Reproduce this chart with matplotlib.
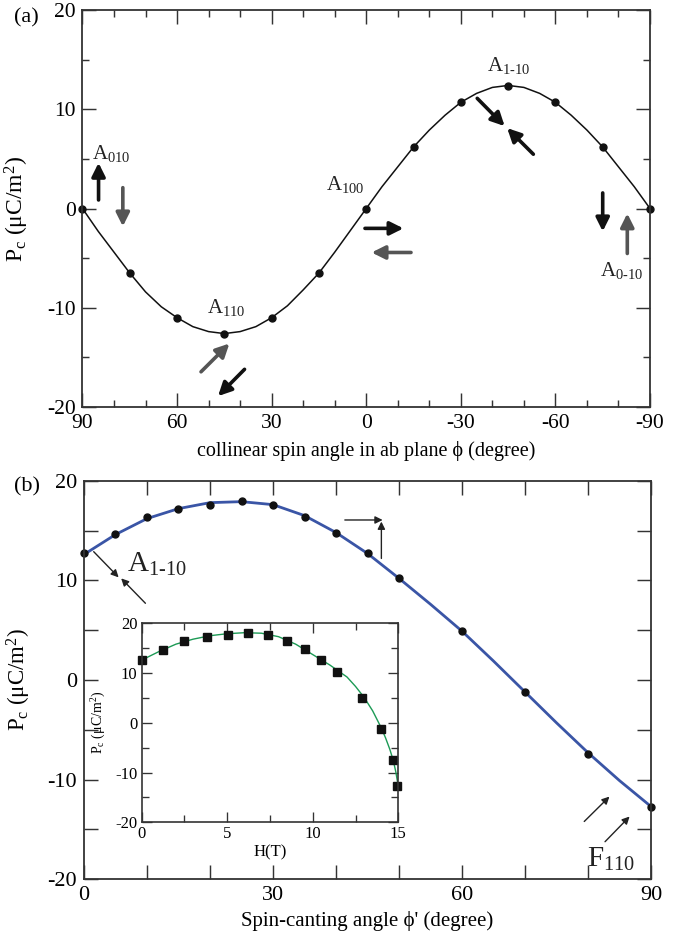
import matplotlib
matplotlib.use("Agg")
import matplotlib.pyplot as plt
import numpy as np

plt.rcParams['font.family'] = ['Liberation Serif', 'DejaVu Serif']
plt.rcParams['mathtext.fontset'] = 'custom'
plt.rcParams['mathtext.rm'] = 'Liberation Serif'
plt.rcParams['mathtext.it'] = 'Liberation Serif:italic'
plt.rcParams['axes.unicode_minus'] = False

# panel (a): collinear spin angle
phi_pts = [90, 75, 60, 45, 30, 15, 0, -15, -30, -45, -60, -75, -90]
pc_a_pts = [0, -6.5, -11.0, -12.65, -11.0, -6.5, 0, 6.2, 10.7, 12.3, 10.7, 6.2, 0]
phi_fit = [90, 85, 80, 75, 70, 65, 60, 55, 50, 45, 40, 35, 30, 25, 20, 15, 10, 5, 0,
           -5, -10, -15, -20, -25, -30, -35, -40, -45, -50, -55, -60, -65, -70, -75, -80, -85, -90]
pc_a_fit = [0, -2.3, -4.4, -6.5, -8.4, -9.9, -11.0, -11.9, -12.4, -12.6, -12.4, -11.9, -11.0,
            -9.8, -8.2, -6.5, -4.4, -2.2, 0, 2.2, 4.2, 6.2, 7.9, 9.4, 10.7, 11.6, 12.2, 12.4,
            12.2, 11.6, 10.7, 9.4, 7.9, 6.2, 4.2, 2.2, 0]

# panel (b): spin-canting angle
cant_pts = [0, 5, 10, 15, 20, 25, 30, 35, 40, 45, 50, 60, 70, 80, 90]
pc_b_pts = [12.7, 14.7, 16.4, 17.2, 17.6, 18.0, 17.6, 16.4, 14.8, 12.7, 10.2, 4.9, -1.2, -7.4, -12.7]
cant_fit = [0, 5, 10, 15, 20, 25, 30, 35, 40, 45, 50, 55, 60, 65, 70, 75, 80, 85, 90]
pc_b_fit = [12.6, 14.6, 16.2, 17.2, 17.8, 17.9, 17.6, 16.5, 14.8, 12.7, 10.2, 7.6, 4.9, 1.9,
            -1.2, -4.3, -7.3, -10.1, -12.7]

# inset: field dependence
h_pts = [0, 1.26, 2.5, 3.8, 5.03, 6.2, 7.4, 8.5, 9.55, 10.5, 11.4, 12.9, 14.0, 14.7, 14.9]
h_fit = [0, 1, 2, 3, 4, 5, 6, 7, 8, 9, 10, 11, 12, 12.5, 13, 13.5, 14, 14.25, 14.5, 14.7, 14.85, 15.0]
pc_h_fit = [12.6, 14.3, 15.8, 16.8, 17.5, 17.9, 18.1, 18.0, 17.3, 15.8, 13.7, 11.6, 9.2, 7.3,
            5.1, 2.4, -1.0, -3.0, -5.3, -7.5, -9.8, -12.8]

fig = plt.figure(figsize=(6.89, 9.34), dpi=100)
ax1 = fig.add_axes([0.1197, 0.5642, 0.8237, 0.4251])
ax2 = fig.add_axes([0.1219, 0.0586, 0.823, 0.4267])
ax3 = fig.add_axes([0.2057, 0.1196, 0.3724, 0.2131])

spine_col = '#333333'


def style(ax, size=15.5, major=10, minor=5, lw=1.3):
    for s in ax.spines.values():
        s.set_linewidth(lw)
        s.set_color(spine_col)
    ax.tick_params(which='both', direction='in', top=True, right=True,
                   labelsize=size, color=spine_col, width=lw * 0.8)
    ax.tick_params(which='major', length=major, pad=5)
    ax.tick_params(which='minor', length=minor)


# ---- (a)
ax1.plot(phi_fit, pc_a_fit, color='#111111', lw=1.1)
ax1.plot(phi_pts, pc_a_pts, 'o', color='#111111', ms=5, clip_on=False)
ax1.set_xlim(90, -90)
ax1.set_ylim(-20, 20)
ax1.set_xticks([90, 60, 30, 0, -30, -60, -90])
ax1.set_xticks(np.arange(-90, 91, 10), minor=True)
ax1.set_yticks([-20, -10, 0, 10, 20])
ax1.set_yticks(np.arange(-20, 21, 5), minor=True)
style(ax1)
ax1.set_xlabel('collinear spin angle in ab plane ϕ (degree)', fontsize=14.5)
ax1.set_ylabel(r'P$_\mathrm{c}$ (μC/m$^2$)', fontsize=17)
ax1.xaxis.set_label_coords(0.5, -0.085)
ax1.yaxis.set_label_coords(-0.09, 0.5)

thick = dict(arrowstyle='-|>', lw=2.6, mutation_scale=20, shrinkA=0, shrinkB=0)


def arrow(ax, start, end, color='#111111', props=thick):
    ax.annotate('', xy=end, xytext=start,
                arrowprops=dict(props, color=color))


gray = '#555555'
arrow(ax1, (84.9, 0.86), (84.9, 4.6))
arrow(ax1, (77.2, 2.1), (77.2, -1.8), gray)
arrow(ax1, (52.4, -16.45), (43.4, -13.6), gray)
arrow(ax1, (38.6, -16.2), (47.0, -18.9))
arrow(ax1, (0.4, -2.0), (-11.8, -2.0))
arrow(ax1, (-14.2, -4.43), (-1.7, -4.43), gray)
arrow(ax1, (-35.2, 11.1), (-43.9, 8.3))
arrow(ax1, (-53.0, 5.47), (-44.7, 8.1))
arrow(ax1, (-75.0, 1.57), (-75.0, -2.3))
arrow(ax1, (-82.8, -4.53), (-82.8, -0.5), gray)

lab = dict(fontsize=15, color='#222222', ha='center', va='center')
ax1.text(80.9, 5.55, r'A$_\mathrm{010}$', **lab)
ax1.text(44.4, -10.0, r'A$_\mathrm{110}$', **lab)
ax1.text(6.7, 2.4, r'A$_\mathrm{100}$', **lab)
ax1.text(-45.3, 14.4, r'A$_\mathrm{1\text{-}10}$', **lab)
ax1.text(-81.1, -6.2, r'A$_\mathrm{0\text{-}10}$', **lab)

# ---- (b)
ax2.plot(cant_fit, pc_b_fit, color='#3a55a6', lw=2.0)
ax2.plot(cant_pts, pc_b_pts, 'o', color='#111111', ms=5, clip_on=False)
ax2.set_xlim(0, 90)
ax2.set_ylim(-20, 20)
ax2.set_xticks([0, 30, 60, 90])
ax2.set_xticks(np.arange(0, 91, 10), minor=True)
ax2.set_yticks([-20, -10, 0, 10, 20])
ax2.set_yticks(np.arange(-20, 21, 5), minor=True)
style(ax2, size=16)
ax2.tick_params(which='minor', length=10)
ax2.tick_params(which='major', length=10)
ax2.set_xlabel("Spin-canting angle ϕ' (degree)", fontsize=15)
ax2.set_ylabel(r'P$_\mathrm{c}$ (μC/m$^2$)', fontsize=16.5)
ax2.xaxis.set_label_coords(0.5, -0.08)
ax2.yaxis.set_label_coords(-0.09, 0.5)

thin = dict(arrowstyle='-|>', lw=1.0, mutation_scale=11, shrinkA=0, shrinkB=0)
dark = '#222222'
arrow(ax2, (1.54, 12.88), (5.5, 10.3), dark, thin)
arrow(ax2, (9.75, 7.7), (5.9, 10.2), dark, thin)
arrow(ax2, (41.4, 16.06), (47.4, 16.06), dark, thin)
arrow(ax2, (47.2, 12.2), (47.2, 15.9), dark, thin)
arrow(ax2, (79.4, -14.2), (83.4, -11.7), dark, thin)
arrow(ax2, (82.7, -16.23), (86.6, -13.7), dark, thin)

big = dict(fontsize=21, color='#222222', ha='center', va='center')
ax2.text(11.6, 11.6, r'A$_\mathrm{1\text{-}10}$', **big)
ax2.text(83.6, -18.0, r'F$_\mathrm{110}$', **big)

# ---- inset
ax3.plot(h_fit, pc_h_fit, color='#1c9a55', lw=1.0)
ax3.plot(h_pts, pc_b_pts, 's', color='#111111', ms=6, clip_on=False)
ax3.set_xlim(0, 15)
ax3.set_ylim(-20, 20)
ax3.set_xticks([0, 5, 10, 15])
ax3.set_xticks(np.arange(0, 15.1, 2.5), minor=True)
ax3.set_yticks([-20, -10, 0, 10, 20])
ax3.set_yticks(np.arange(-20, 21, 5), minor=True)
style(ax3, size=12, major=7, minor=5, lw=1.2)
ax3.tick_params(which='major', pad=3)
ax3.set_xlabel('H(T)', fontsize=12)
ax3.set_ylabel(r'P$_\mathrm{c}$ (μC/m$^2$)', fontsize=10)
ax3.xaxis.set_label_coords(0.5, -0.11)
ax3.yaxis.set_label_coords(-0.13, 0.5)

fig.text(0.02, 0.981, '(a)', fontsize=16, va='center')
fig.text(0.02, 0.479, '(b)', fontsize=16, va='center')

fig.savefig('out.png', dpi=100)
